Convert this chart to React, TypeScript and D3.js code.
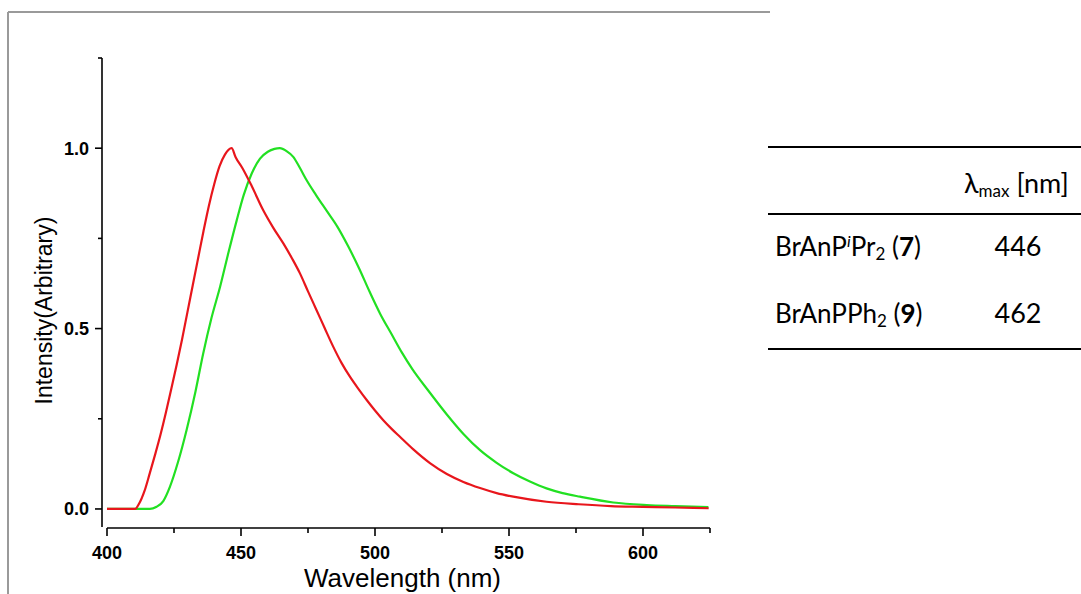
import React from "react";
import * as d3 from "d3";

// Emission spectra (normalized intensity vs wavelength)
const redNm = [400, 410.5, 412, 414, 416, 418, 420, 422, 424, 426, 428, 430, 432, 434, 436, 438, 440, 442, 444, 446.5, 448, 450.5, 454, 458.3, 462, 465.8, 469, 472, 475, 478.2, 481.3, 484.4, 487.5, 490.7, 493.8, 496.9, 500, 503.1, 506.2, 509.3, 514.3, 520.5, 526.8, 533, 539.2, 545.4, 551.6, 564, 576, 588, 600, 612, 624.5];
const redI = [0, 0, 0.015, 0.05, 0.1, 0.152, 0.207, 0.268, 0.333, 0.4, 0.47, 0.545, 0.62, 0.695, 0.77, 0.84, 0.9, 0.95, 0.982, 1.0, 0.975, 0.945, 0.895, 0.828, 0.78, 0.736, 0.695, 0.653, 0.603, 0.551, 0.5, 0.45, 0.405, 0.366, 0.333, 0.302, 0.273, 0.246, 0.222, 0.2, 0.165, 0.127, 0.097, 0.075, 0.058, 0.044, 0.034, 0.02, 0.013, 0.008, 0.006, 0.004, 0.002];

const greenNm = [400, 416, 418.5, 421, 423.5, 426.5, 429.7, 433, 435.9, 439, 442.2, 445.3, 448.4, 451, 454, 457.1, 460, 462.5, 464.5, 467, 469.5, 472, 474.5, 478, 482, 486, 490, 494, 498, 502, 506, 510, 514, 520, 526.8, 533, 539.2, 545.4, 551.6, 557.8, 564, 570, 576.5, 588.9, 601.4, 612, 624.4];
const greenI = [0, 0, 0.006, 0.022, 0.062, 0.13, 0.219, 0.325, 0.431, 0.53, 0.616, 0.71, 0.8, 0.87, 0.93, 0.971, 0.99, 0.998, 1.0, 0.992, 0.976, 0.945, 0.911, 0.87, 0.826, 0.782, 0.728, 0.668, 0.602, 0.54, 0.487, 0.434, 0.387, 0.327, 0.262, 0.208, 0.163, 0.128, 0.099, 0.076, 0.057, 0.044, 0.034, 0.018, 0.011, 0.008, 0.005];

const xMajorTicks = [400, 450, 500, 550, 600];
const xMinorTicks = [425, 475, 525, 575, 625];
const yMajorTicks = [0, 0.5, 1.0];
const yMinorTicks = [0.25, 0.75, 1.25];

const compounds = ["7", "9"];
const lambdaMax = ["446", "462"];

const W = 1081;
const H = 594;

export default function App() {
  const x = d3.scaleLinear().domain([400, 625]).range([107, 710]);
  const y = d3.scaleLinear().domain([-0.05, 1.25]).range([527, 58]);
  const axisX = 102;
  const axisY = 528;

  const line = d3
    .line<[number, number]>()
    .x((d) => x(d[0]))
    .y((d) => y(d[1]))
    .curve(d3.curveMonotoneX);

  const red = line(redNm.map((n, i) => [n, redI[i]] as [number, number])) || "";
  const green = line(greenNm.map((n, i) => [n, greenI[i]] as [number, number])) || "";

  const tickFont = "'Liberation Sans', Arial, sans-serif";
  const tableFont = "Lato, 'Open Sans', sans-serif";

  return (
    <svg
      width={W}
      height={H}
      style={{ position: "absolute", left: 0, top: 0, background: "#fff" }}
    >
      <rect x={0} y={0} width={W} height={H} fill="#fff" />
      {/* frame */}
      <line x1={8} y1={12} x2={770} y2={12} stroke="#9a9a9a" strokeWidth={2} />
      <line x1={8} y1={12} x2={8} y2={H} stroke="#9a9a9a" strokeWidth={2} />

      {/* curves */}
      <path d={green} fill="none" stroke="#22e022" strokeWidth={2.2} strokeLinejoin="round" />
      <path d={red} fill="none" stroke="#e8161c" strokeWidth={2.2} strokeLinejoin="round" />

      {/* y axis */}
      <line x1={axisX} y1={y(1.25)} x2={axisX} y2={y(-0.05)} stroke="#000" strokeWidth={1.6} />
      {yMajorTicks.map((t) => (
        <g key={"ym" + t}>
          <line x1={axisX - 7} x2={axisX} y1={y(t)} y2={y(t)} stroke="#000" strokeWidth={1.6} />
          <text
            x={axisX - 13}
            y={y(t)}
            dy="0.36em"
            textAnchor="end"
            fontFamily={tickFont}
            fontWeight="bold"
            fontSize={18}
          >
            {d3.format(".1f")(t)}
          </text>
        </g>
      ))}
      {yMinorTicks.map((t) => (
        <line key={"yn" + t} x1={axisX - 4} x2={axisX} y1={y(t)} y2={y(t)} stroke="#000" strokeWidth={1.6} />
      ))}

      {/* x axis */}
      <line x1={x(400)} y1={axisY} x2={x(625)} y2={axisY} stroke="#000" strokeWidth={1.6} />
      {xMajorTicks.map((t) => (
        <g key={"xm" + t}>
          <line x1={x(t)} x2={x(t)} y1={axisY} y2={axisY + 8} stroke="#000" strokeWidth={1.6} />
          <text
            x={x(t)}
            y={axisY + 31}
            textAnchor="middle"
            fontFamily={tickFont}
            fontWeight="bold"
            fontSize={18}
          >
            {t}
          </text>
        </g>
      ))}
      {xMinorTicks.map((t) => (
        <line key={"xn" + t} x1={x(t)} x2={x(t)} y1={axisY} y2={axisY + 5} stroke="#000" strokeWidth={1.6} />
      ))}

      {/* axis titles */}
      <text
        x={(x(400) + x(625)) / 2 - 6}
        y={587}
        textAnchor="middle"
        fontFamily={tickFont}
        fontSize={26}
      >
        Wavelength (nm)
      </text>
      <text
        transform={`translate(52, ${y(0.55)}) rotate(-90)`}
        textAnchor="middle"
        fontFamily={tickFont}
        fontSize={23}
      >
        Intensity(Arbitrary)
      </text>

      {/* table */}
      <line x1={768} x2={W} y1={147} y2={147} stroke="#000" strokeWidth={2} />
      <line x1={768} x2={W} y1={214} y2={214} stroke="#000" strokeWidth={2} />
      <line x1={768} x2={W} y1={349} y2={349} stroke="#000" strokeWidth={2} />

      <text x={964} y={193} fontFamily={tableFont} fontSize={27}>
        λ
        <tspan fontSize={17} dy={4}>max</tspan>
        <tspan dy={-4}> [nm]</tspan>
      </text>

      <text x={775} y={256} fontFamily={tableFont} fontSize={26}>
        BrAnP
        <tspan fontStyle="italic" fontSize={16} dy={-9}>i</tspan>
        <tspan dy={9}>Pr</tspan>
        <tspan fontSize={17} dy={4}>2</tspan>
        <tspan dy={-4}> (</tspan>
        <tspan fontWeight="bold">{compounds[0]}</tspan>
        <tspan>)</tspan>
      </text>
      <text x={775} y={323} fontFamily={tableFont} fontSize={26}>
        BrAnPPh
        <tspan fontSize={17} dy={4}>2</tspan>
        <tspan dy={-4}> (</tspan>
        <tspan fontWeight="bold">{compounds[1]}</tspan>
        <tspan>)</tspan>
      </text>

      <text x={1018} y={256} textAnchor="middle" fontFamily={tableFont} fontSize={27}>
        {lambdaMax[0]}
      </text>
      <text x={1018} y={323} textAnchor="middle" fontFamily={tableFont} fontSize={27}>
        {lambdaMax[1]}
      </text>
    </svg>
  );
}
